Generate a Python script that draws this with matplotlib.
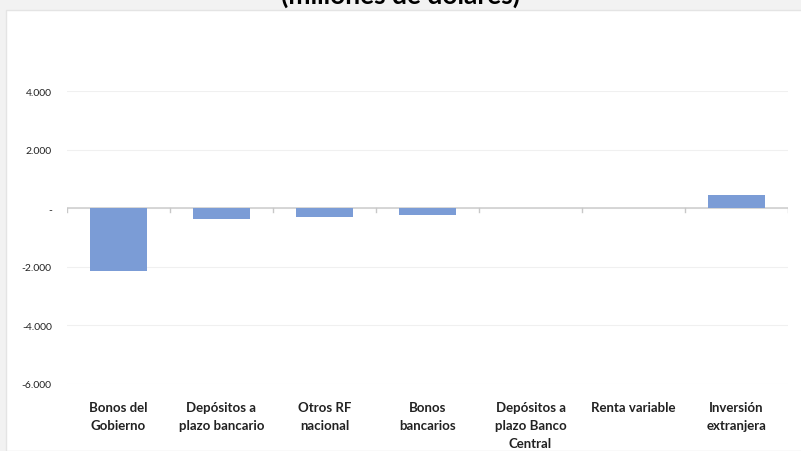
import matplotlib.pyplot as plt
from matplotlib.patches import Rectangle
from matplotlib.ticker import FuncFormatter
import numpy as np

# flujos por tipo de instrumento (millones de dólares)
categorias = ["Bonos del\nGobierno", "Depósitos a\nplazo bancario", "Otros RF\nnacional",
              "Bonos\nbancarios", "Depósitos a\nplazo Banco\nCentral", "Renta variable",
              "Inversión\nextranjera"]
valores = [-2160, -360, -300, -240, 0, 0, 450]
yticks = [-6000, -4000, -2000, 0, 2000, 4000]

plt.rcParams['font.family'] = ['Lato', 'DejaVu Sans']

fig = plt.figure(figsize=(8.01, 4.52), dpi=100)
fig.patch.set_facecolor('#f2f2f2')
# panel blanco del gráfico
fig.patches.append(Rectangle((6 / 801, 0), 1, 1 - 11 / 452, transform=fig.transFigure,
                             facecolor='white', edgecolor='#e4e4e4', lw=1, zorder=-5))

ax = fig.add_axes([67 / 801, 1 - 385 / 452, (788 - 67) / 801, (385 - 92) / 452])
ax.set_facecolor('none')

x = np.arange(len(categorias))
ax.bar(x, valores, width=0.55, color='#7b9cd6', zorder=3)

ax.set_xlim(-0.5, len(categorias) - 0.5)
ax.set_ylim(-6000, 4000)
ax.set_yticks(yticks)

def fmt(v, pos):
    if v == 0:
        return '-'
    return f"{v:,.0f}".replace(',', '.')

ax.yaxis.set_major_formatter(FuncFormatter(fmt))
ax.grid(axis='y', color='#f0f0f0', lw=0.8, zorder=0)
ax.tick_params(axis='y', length=0, labelsize=7.5, pad=11, labelcolor='#222222')

for s in ax.spines.values():
    s.set_visible(False)

# eje en cero con marcas entre categorías
ax.axhline(0, color='#d0d0d0', lw=1.2, zorder=2)
for b in np.arange(-0.5, len(categorias), 1):
    ax.plot([b, b], [0, -120], color='#c8c8c8', lw=1, zorder=2)

ax.set_xticks([])
for xi, lab in zip(x, categorias):
    ax.text(xi, -6580, lab, ha='center', va='top',
            fontsize=9.5, fontweight='bold', color='#222222', linespacing=1.6,
            clip_on=False)

fig.text(0.5, 1 - 8 / 452, "(millones de dólares)", ha='center', va='bottom',
         fontsize=19, fontweight='bold', color='black')

fig.savefig('out.png', dpi=100, facecolor=fig.get_facecolor())
